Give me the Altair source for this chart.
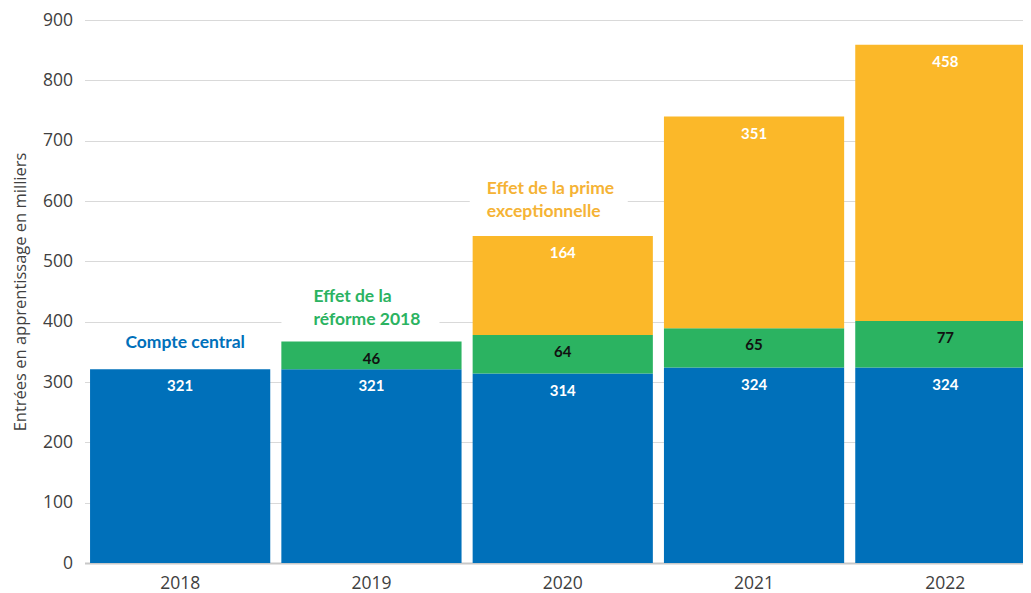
import altair as alt
import pandas as pd

years = ["2018", "2019", "2020", "2021", "2022"]
central = [321, 321, 314, 324, 324]
reforme = [None, 46, 64, 65, 77]
prime = [None, None, 164, 351, 458]
series_names = ["Compte central", "Effet de la réforme 2018", "Effet de la prime exceptionnelle"]
colors = ["#0070BA", "#2BB361", "#FBB829"]
label_colors = ["#FFFFFF", "#111111", "#FFFFFF"]
y_ticks = [0, 100, 200, 300, 400, 500, 600, 700, 800, 900]

rows = []
for i, yr in enumerate(years):
    for k, vals in enumerate([central, reforme, prime]):
        v = vals[i]
        if v is None:
            continue
        rows.append({"year": yr, "series": series_names[k], "order": k,
                     "value": v, "label_color": label_colors[k]})
df = pd.DataFrame(rows)

x_scale = alt.Scale(domain=years, range=[0, 956.5], paddingInner=0.058, paddingOuter=0.029)
y_scale = alt.Scale(domain=[0, 900], nice=False)

x_axis = alt.Axis(labelAngle=0, ticks=False, domain=True, domainColor="#c8c8c8", domainWidth=2,
                  labelFont="Open Sans", labelFontSize=17.5, labelColor="#404040",
                  labelPadding=11, title=None, grid=False)
y_axis = alt.Axis(values=y_ticks, domain=False, ticks=False, grid=True, gridColor="#d9d9d9",
                  labelFont="Open Sans", labelFontSize=17.5, labelColor="#404040", labelPadding=12,
                  title="Entrées en apprentissage en milliers", titleFont="Open Sans",
                  titleFontSize=16.5, titleFontWeight="normal", titleColor="#404040",
                  titleX=-64, titleY=271.5, titleAngle=270, titleAlign="center",
                  titleBaseline="middle")

base = alt.Chart(df).transform_stack(
    stack="value", groupby=["year"], as_=["v0", "v1"], sort=[alt.SortField("order")]
)

bars = base.mark_bar(clip=True).encode(
    x=alt.X("year:N", scale=x_scale, axis=x_axis),
    y=alt.Y("v1:Q", scale=y_scale, axis=y_axis),
    y2="v0:Q",
    color=alt.Color("series:N", scale=alt.Scale(domain=series_names, range=colors), legend=None),
)

labels = base.mark_text(dy=17, font="Lato", fontWeight="bold", fontSize=15, baseline="middle").encode(
    x=alt.X("year:N", scale=x_scale),
    y=alt.Y("v1:Q", scale=y_scale),
    text="value:Q",
    color=alt.Color("label_color:N", scale=None),
)

# white boxes masking grid lines behind annotations
box_df = pd.DataFrame({"year": ["2019", "2020"], "y0": [385, 585], "y1": [455, 640]})
box1 = alt.Chart(box_df.iloc[[0]]).mark_bar(color="white", width=158, xOffset=-11).encode(
    x=alt.X("year:N", scale=x_scale), y=alt.Y("y0:Q", scale=y_scale), y2="y1:Q")
box2 = alt.Chart(box_df.iloc[[1]]).mark_bar(color="white", width=158, xOffset=-14).encode(
    x=alt.X("year:N", scale=x_scale), y=alt.Y("y0:Q", scale=y_scale), y2="y1:Q")

ann1 = alt.Chart(pd.DataFrame({"year": ["2018"], "v": [364.6], "t": ["Compte central"]})).mark_text(
    font="Lato", fontWeight="bold", fontSize=17.5, color=colors[0], align="center", baseline="middle", dx=5
).encode(x=alt.X("year:N", scale=x_scale), y=alt.Y("v:Q", scale=y_scale), text="t:N")

ann2 = alt.Chart(pd.DataFrame({"year": ["2019"], "v": [440.5], "t": ["Effet de la\nréforme 2018"]})).mark_text(
    font="Lato", fontWeight="bold", fontSize=17.5, color=colors[1], align="left", baseline="middle",
    dx=-58, lineBreak="\n", lineHeight=23
).encode(x=alt.X("year:N", scale=x_scale), y=alt.Y("v:Q", scale=y_scale), text="t:N")

ann3 = alt.Chart(pd.DataFrame({"year": ["2020"], "v": [620], "t": ["Effet de la prime\nexceptionnelle"]})).mark_text(
    font="Lato", fontWeight="bold", fontSize=17.5, color="#F5B335", align="left", baseline="middle",
    dx=-76, lineBreak="\n", lineHeight=23
).encode(x=alt.X("year:N", scale=x_scale), y=alt.Y("v:Q", scale=y_scale), text="t:N")

chart = alt.layer(bars, labels, box1, box2, ann1, ann2, ann3).properties(
    width=938.5, height=543,
    autosize=alt.AutoSizeParams(type="none"),
    padding={"left": 76.5, "top": 12, "right": 0, "bottom": 30},
).configure_view(stroke=None)

chart.save("out.html", embed_options={"renderer": "svg", "actions": False})
